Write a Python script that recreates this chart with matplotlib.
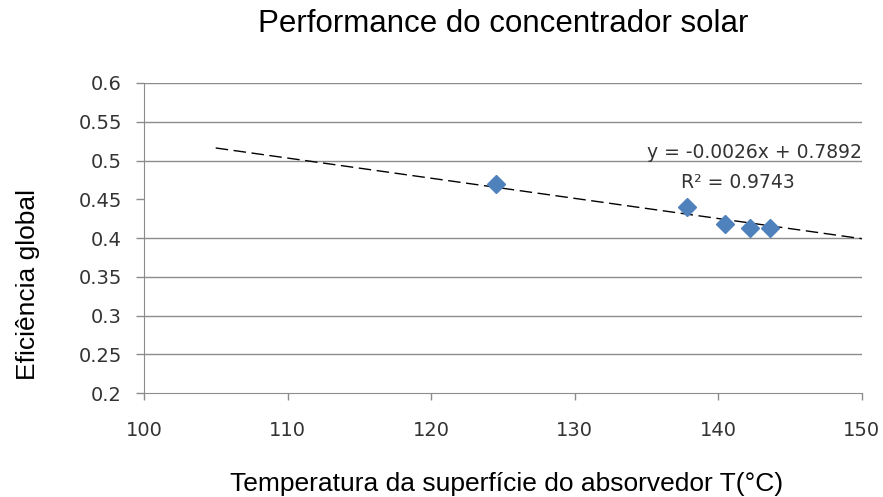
import matplotlib
matplotlib.use("Agg")
import matplotlib.pyplot as plt
import numpy as np

plt.rcParams['font.family'] = ['Liberation Sans', 'DejaVu Sans']

# Data
temperatura = [124.5, 137.8, 140.5, 142.2, 143.6]
eficiencia = [0.470, 0.440, 0.418, 0.413, 0.413]
slope = -0.0026
intercept = 0.7892
trend_x = [105, 150]
eq_text = "y = -0.0026x + 0.7892"
r2_text = "R² = 0.9743"
title = "Performance do concentrador solar"
xlabel = "Temperatura da superfície do absorvedor T(°C)"
ylabel = "Eficiência global"
xticks = [100, 110, 120, 130, 140, 150]
yticks = [0.2, 0.25, 0.3, 0.35, 0.4, 0.45, 0.5, 0.55, 0.6]
ytick_labels = ["0.2", "0.25", "0.3", "0.35", "0.4", "0.45", "0.5", "0.55", "0.6"]
grid_levels = [0.25, 0.3, 0.35, 0.4, 0.5, 0.55, 0.6]

fig = plt.figure(figsize=(8.83, 4.97), dpi=100)
ax = fig.add_axes([0.163, 0.209, 0.813, 0.624])

ax.set_xlim(100, 150)
ax.set_ylim(0.2, 0.6)

for g in grid_levels:
    ax.axhline(g, color='#8c8c8c', linewidth=1.0, zorder=1)

tx = np.array(trend_x, dtype=float)
ax.plot(tx, slope * tx + intercept, color='black', linewidth=1.0,
        linestyle=(0, (9, 4)), zorder=2)

ax.plot(temperatura, eficiencia, linestyle='none', marker='D',
        markersize=9, color='#4F81BD', zorder=3)

ax.text(150, 0.5107, eq_text, fontsize=13.5, color='#333333', ha='right', va='center',
        family='DejaVu Sans')
ax.text(141.4, 0.4718, r2_text, fontsize=13.5, color='#333333', ha='center', va='center',
        family='DejaVu Sans')

ax.set_xticks(xticks)
ax.set_xticklabels([str(v) for v in xticks])
ax.set_yticks(yticks)
ax.set_yticklabels(ytick_labels)
for lbl in ax.get_xticklabels() + ax.get_yticklabels():
    lbl.set_family('DejaVu Sans')

for s in ['top', 'right']:
    ax.spines[s].set_visible(False)
ax.spines['left'].set_color('#8c8c8c')
ax.spines['bottom'].set_color('#8c8c8c')
ax.tick_params(axis='both', colors='#8c8c8c', labelcolor='#333333', labelsize=14,
               width=1)
ax.tick_params(axis='x', pad=15, length=5)
ax.tick_params(axis='y', pad=10, length=5.8)

ax.set_title(title, fontsize=22.5, color='black', y=1.191, va='center', pad=0)
ax.set_xlabel(xlabel, fontsize=19, va='center')
ax.xaxis.set_label_coords(0.505, -0.2945)
ax.set_ylabel(ylabel, fontsize=19, va='center')
ax.yaxis.set_label_coords(-0.1616, 0.35)

fig.savefig("out.png", dpi=100)
